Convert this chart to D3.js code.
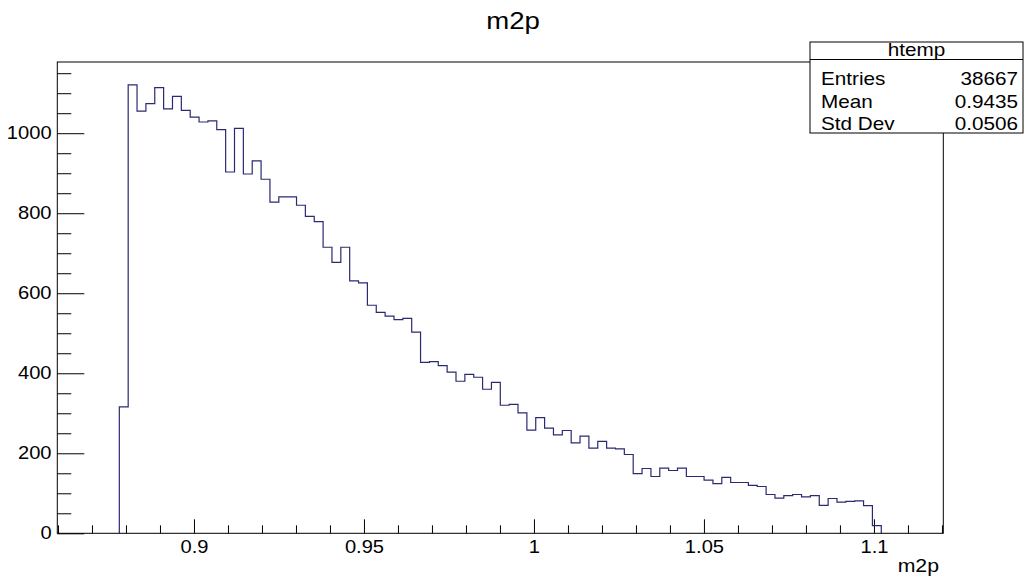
<!DOCTYPE html>
<html>
<head>
<meta charset="utf-8">
<script src="https://cdn.jsdelivr.net/npm/d3@7"></script>
<style>
  body { margin: 0; background: #fff; }
  svg { display: block; }
  text { font-family: "Liberation Sans", Arial, Helvetica, sans-serif; fill: #000; }
</style>
</head>
<body>
<div id="chart"></div>
<script>
// histogram as drawn by ROOT (TTree::Draw -> htemp), 100 bins
const title = "m2p";
const xTitle = "m2p";
const xRange = [0.8598, 1.1204];
const nBins = 100;
const firstBin = 7; // bins before this one are empty
const counts = [
  316, 1121, 1055, 1074, 1114, 1061, 1092, 1057, 1040, 1028,
  1031, 1009, 903, 1012, 898, 931, 885, 828, 841, 841,
  820, 792, 779, 715, 677, 715, 631, 626, 570, 552,
  543, 534, 537, 503, 427, 429, 419, 403, 380, 397,
  390, 360, 377, 320, 322, 301, 258, 289, 263, 246,
  257, 226, 243, 213, 230, 213, 211, 197, 149, 162,
  142, 163, 157, 163, 142, 142, 133, 124, 140, 127,
  127, 120, 117, 97, 88, 94, 97, 91, 94, 70,
  87, 78, 80, 81, 69, 19
];
const yMax = 1178;

const xMajor = [0.9, 0.95, 1, 1.05, 1.1];
const xMajorLabels = ["0.9", "0.95", "1", "1.05", "1.1"];
const xMinor = [0.86, 0.87, 0.88, 0.89, 0.91, 0.92, 0.93, 0.94, 0.96, 0.97, 0.98, 0.99,
  1.01, 1.02, 1.03, 1.04, 1.06, 1.07, 1.08, 1.09, 1.11, 1.12];
const yMajor = [0, 200, 400, 600, 800, 1000];
const yMinor = [50, 100, 150, 250, 300, 350, 450, 500, 550, 650, 700, 750,
  850, 900, 950, 1050, 1100, 1150];

const statsName = "htemp";
const statsLabels = ["Entries", "Mean", "Std Dev"];
const statsValues = ["38667", "0.9435", "0.0506"];

const width = 1026, height = 577;
const margin = {top: 62, right: 82.7, bottom: 43.7, left: 57.3};
const stretch = "scale(1.15,1)";
const lineColor = "#2a2a72";

const svg = d3.select("#chart").append("svg")
  .attr("width", width)
  .attr("height", height);

const x = d3.scaleLinear()
  .domain(xRange)
  .range([margin.left, width - margin.right]);

const y = d3.scaleLinear()
  .domain([0, yMax])
  .range([height - margin.bottom, margin.top]);

const binW = (xRange[1] - xRange[0]) / nBins;
const edge = i => xRange[0] + i * binW;

// axes: ticks point into the frame like ROOT
const xAxis = g => g
  .attr("transform", `translate(0,${height - margin.bottom})`)
  .call(d3.axisBottom(x).tickValues(xMajor).tickSize(-14).tickPadding(7)
    .tickFormat((d, i) => xMajorLabels[i]))
  .call(g => g.select(".domain").remove())
  .call(g => g.selectAll("text").attr("font-size", 17.5).attr("transform", stretch));

const xAxisMinor = g => g
  .attr("transform", `translate(0,${height - margin.bottom})`)
  .call(d3.axisBottom(x).tickValues(xMinor).tickSize(-8).tickFormat(""))
  .call(g => g.select(".domain").remove());

const yAxis = g => g
  .attr("transform", `translate(${margin.left},0)`)
  .call(d3.axisLeft(y).tickValues(yMajor).tickSize(-27).tickPadding(5)
    .tickFormat(d3.format("d")))
  .call(g => g.select(".domain").remove())
  .call(g => g.selectAll("text").attr("font-size", 17.5).attr("transform", stretch));

const yAxisMinor = g => g
  .attr("transform", `translate(${margin.left},0)`)
  .call(d3.axisLeft(y).tickValues(yMinor).tickSize(-14).tickFormat(""))
  .call(g => g.select(".domain").remove());

svg.append("g").call(xAxisMinor);
svg.append("g").call(xAxis);
svg.append("g").call(yAxisMinor);
svg.append("g").call(yAxis);
svg.selectAll(".tick line").attr("stroke", "#000");

// histogram outline
const pts = [[edge(firstBin), 0]];
counts.forEach((c, i) => {
  pts.push([edge(firstBin + i), c]);
  pts.push([edge(firstBin + i + 1), c]);
});
pts.push([edge(firstBin + counts.length), 0]);

svg.append("path")
  .datum(pts)
  .attr("fill", "none")
  .attr("stroke", lineColor)
  .attr("stroke-width", 1.2)
  .attr("d", d3.line().x(d => x(d[0])).y(d => y(d[1])));

// frame
svg.append("rect")
  .attr("x", x(xRange[0]))
  .attr("y", y(yMax))
  .attr("width", x(xRange[1]) - x(xRange[0]))
  .attr("height", y(0) - y(yMax))
  .attr("fill", "none")
  .attr("stroke", "#000")
  .attr("stroke-width", 1);

// titles
svg.append("g")
  .attr("transform", `translate(${width / 2},29)`)
  .append("text")
  .attr("text-anchor", "middle")
  .attr("font-size", 24)
  .attr("transform", stretch)
  .text(title);

svg.append("g")
  .attr("transform", `translate(939,572)`)
  .append("text")
  .attr("text-anchor", "end")
  .attr("font-size", 18.5)
  .attr("transform", stretch)
  .text(xTitle);

// stats box
const box = {x: 810, y: 42, w: 213, h: 91};
const sb = svg.append("g");
sb.append("rect")
  .attr("x", box.x).attr("y", box.y)
  .attr("width", box.w).attr("height", box.h)
  .attr("fill", "#fff").attr("stroke", "#000");
sb.append("line")
  .attr("x1", box.x).attr("x2", box.x + box.w)
  .attr("y1", 59.5).attr("y2", 59.5)
  .attr("stroke", "#000");
sb.append("g")
  .attr("transform", `translate(${box.x + box.w / 2},56)`)
  .append("text")
  .attr("text-anchor", "middle")
  .attr("font-size", 18)
  .attr("transform", stretch)
  .text(statsName);

statsLabels.forEach((lab, i) => {
  const base = 85 + i * 22.5;
  sb.append("g")
    .attr("transform", `translate(821,${base})`)
    .append("text")
    .attr("font-size", 18)
    .attr("transform", stretch)
    .text(lab);
  sb.append("g")
    .attr("transform", `translate(1018,${base})`)
    .append("text")
    .attr("text-anchor", "end")
    .attr("font-size", 18)
    .attr("transform", stretch)
    .text(statsValues[i]);
});
</script>
</body>
</html>
